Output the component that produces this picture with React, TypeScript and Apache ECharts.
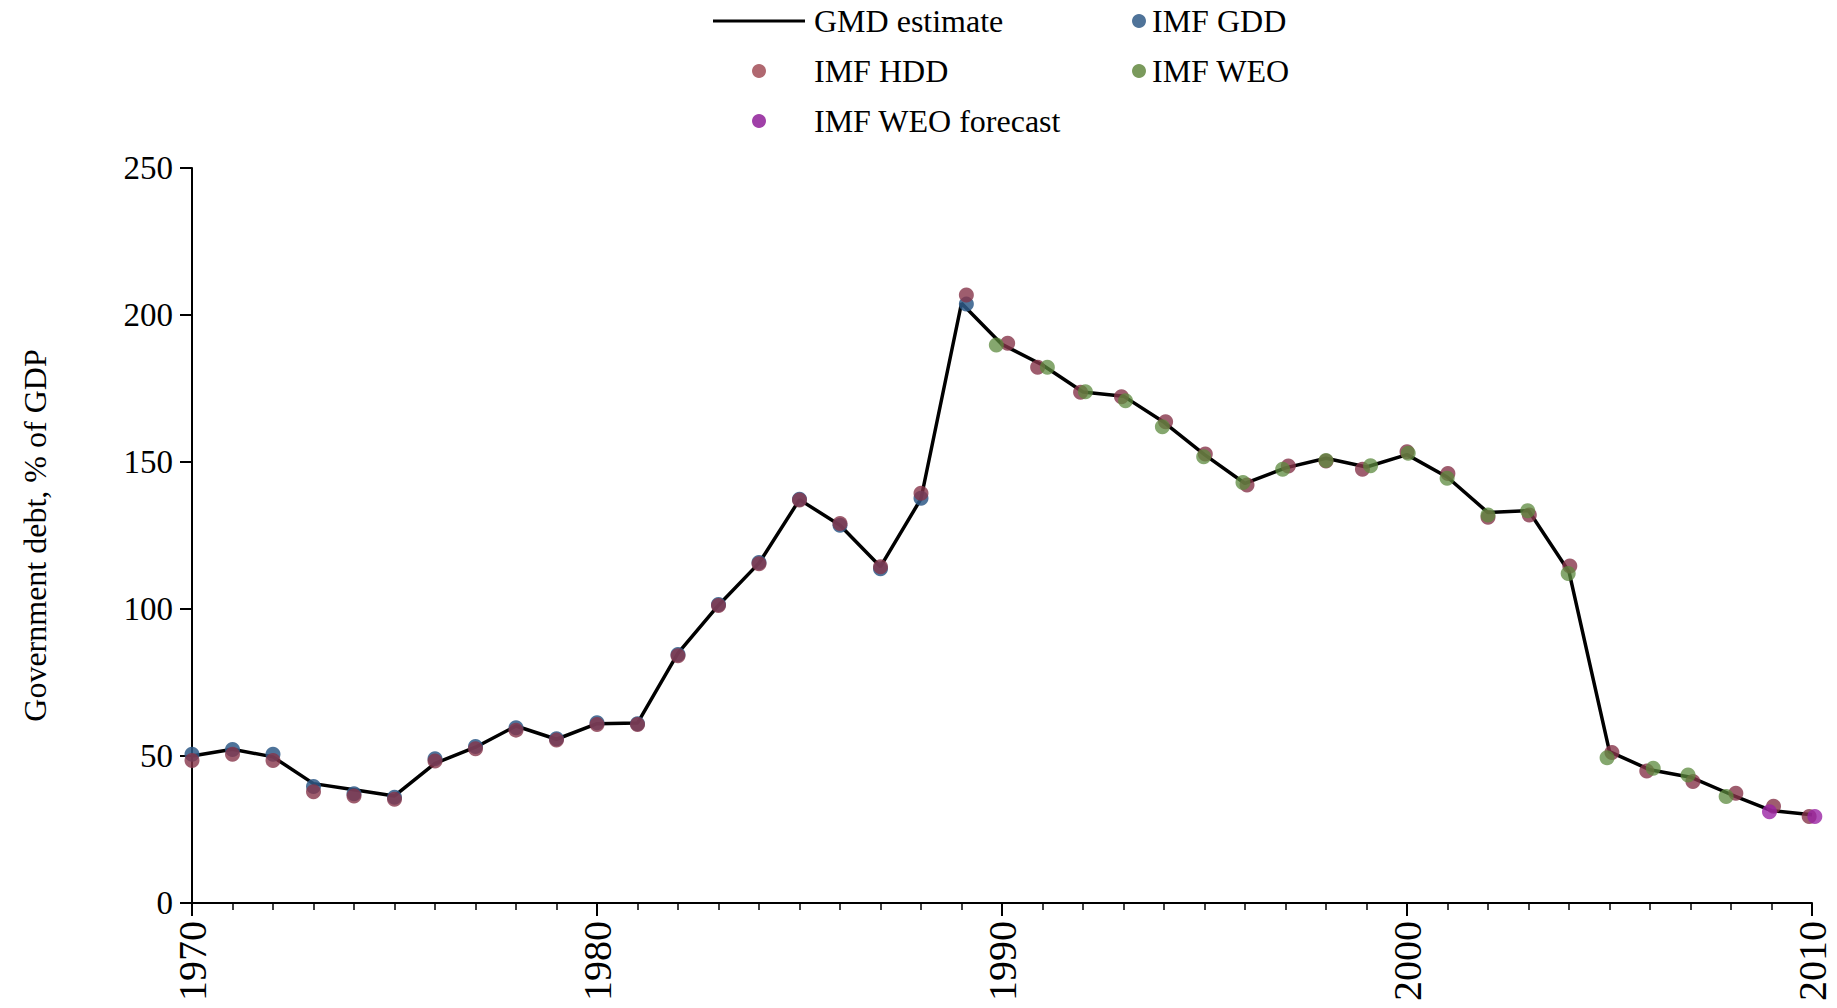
import React, { useEffect, useRef } from "react";
import * as echarts from "echarts";

// ---- Data ----
const years = [
  1970, 1971, 1972, 1973, 1974, 1975, 1976, 1977, 1978, 1979,
  1980, 1981, 1982, 1983, 1984, 1985, 1986, 1987, 1988, 1989,
  1990, 1991, 1992, 1993, 1994, 1995, 1996, 1997, 1998, 1999,
  2000, 2001, 2002, 2003, 2004, 2005, 2006, 2007, 2008, 2009, 2010,
];
const gmdEstimate = [
  50, 52.3, 49.7, 40.6, 38.5, 36.4, 47.5, 53, 60.2, 55.7,
  61, 61.2, 85, 101.3, 115.6, 137.2, 128.5, 114.4, 137.5, 204,
  190, 183, 173.8, 172.4, 163.5, 152.5, 142.7, 148, 151.3, 148.3,
  152.5, 144.8, 132.8, 133.5, 112.7, 51.5, 45.3, 42.8, 36.9, 31.4, 30,
];

const gddYears = [
  1970, 1971, 1972, 1973, 1974, 1975, 1976, 1977, 1978, 1979,
  1980, 1981, 1982, 1983, 1984, 1985, 1986, 1987, 1988, 1989.12,
];
const gddValues = [
  50.6, 52.2, 50.6, 39.6, 37.2, 36.0, 49.1, 53.2, 59.6, 55.9,
  61.3, 61.0, 84.5, 101.5, 115.8, 137.3, 128.5, 113.7, 137.7, 203.7,
];

const hddYears = [
  1970, 1971, 1972, 1973, 1974, 1975, 1976, 1977, 1978, 1979,
  1980, 1981, 1982, 1983, 1984, 1985, 1986, 1987, 1988, 1989.12,
  1990.14, 1990.88, 1991.94, 1992.95, 1994.04, 1995.02, 1996.05, 1997.07, 1998, 1998.9,
  2000, 2001.01, 2002, 2003.02, 2004.02, 2005.06, 2005.92, 2007.06, 2008.12, 2009.05, 2009.93,
];
const hddValues = [
  48.5, 50.6, 48.5, 37.8, 36.4, 35.3, 48.3, 52.5, 58.8, 55.4,
  60.7, 60.7, 84.1, 101.2, 115.4, 137.1, 129.1, 114.4, 139.4, 206.8,
  190.4, 182.2, 173.7, 172.2, 163.7, 152.7, 142.2, 148.6, 150.3, 147.5,
  153.5, 146.1, 131.2, 132.0, 114.6, 51.2, 44.9, 41.3, 37.3, 32.9, 29.4,
];

const weoYears = [
  1989.86, 1991.12, 1992.06, 1993.05, 1993.96, 1994.98, 1995.95, 1996.93, 1998, 1999.1,
  2000.03, 2000.99, 2002, 2002.98, 2003.98, 2004.94, 2006.08, 2006.94, 2007.88,
];
const weoValues = [
  189.8, 182.2, 173.9, 170.8, 162.0, 151.8, 143.0, 147.5, 150.5, 148.7,
  153.0, 144.5, 132.0, 133.4, 112.1, 49.4, 45.8, 43.5, 36.2,
];

const forecastYears = [2008.95, 2010.07];
const forecastValues = [31.0, 29.4];

const yAxisTitle = "Government debt, % of GDP";
const FONT = "'Liberation Serif', 'Times New Roman', serif";

const pairs = (xs: number[], ys: number[]) => xs.map((x, i) => [x, ys[i]]);

export default function App() {
  const ref = useRef<HTMLDivElement>(null);

  useEffect(() => {
    if (!ref.current) return;
    const chart = echarts.init(ref.current, null, { renderer: "svg" });

    const legendText = {
      fontSize: 32,
      fontFamily: FONT,
      color: "#000",
      lineHeight: 32,
    };

    const scatterBase = {
      type: "scatter",
      symbol: "circle",
      symbolSize: 15,
      clip: false,
      z: 3,
    };

    chart.setOption({
      animation: false,
      backgroundColor: "#ffffff",
      textStyle: { fontFamily: FONT },
      grid: { left: 192, right: 25, top: 168, bottom: 105, containLabel: false },
      legend: [
        {
          orient: "vertical",
          left: 708,
          top: 0,
          itemWidth: 92,
          itemHeight: 14,
          itemGap: 18,
          selectedMode: false,
          textStyle: { ...legendText, padding: [0, 0, 0, 4] },
          data: [
            {
              name: "GMD estimate",
              icon: "path://M0,0h92v3h-92z",
              itemStyle: { color: "#000", opacity: 1 },
            },
            { name: "IMF HDD", icon: "circle", itemStyle: { color: "#b06870", opacity: 1 } },
            { name: "IMF WEO forecast", icon: "circle", itemStyle: { color: "#a040a8", opacity: 1 } },
          ],
        },
        {
          orient: "vertical",
          left: 1127,
          top: 0,
          itemWidth: 14,
          itemHeight: 14,
          itemGap: 18,
          selectedMode: false,
          textStyle: { ...legendText, padding: [0, 0, 0, 1] },
          data: [
            { name: "IMF GDD", icon: "circle", itemStyle: { color: "#4f7399", opacity: 1 } },
            { name: "IMF WEO", icon: "circle", itemStyle: { color: "#7a9a5c", opacity: 1 } },
          ],
        },
      ],
      xAxis: {
        type: "value",
        min: 1970,
        max: 2010,
        interval: 10,
        axisLine: { show: true, onZero: false, lineStyle: { color: "#000", width: 2 } },
        axisTick: { show: true, length: 13, lineStyle: { color: "#000", width: 2 } },
        minorTick: { show: true, splitNumber: 10, length: 7, lineStyle: { color: "#000", width: 1.5 } },
        splitLine: { show: false },
        minorSplitLine: { show: false },
        axisLabel: {
          rotate: 90,
          margin: 18,
          fontSize: 40,
          fontFamily: FONT,
          color: "#000",
          formatter: (v: number) => String(v),
        },
      },
      yAxis: {
        type: "value",
        min: 0,
        max: 250,
        interval: 50,
        name: yAxisTitle,
        nameLocation: "middle",
        nameGap: 141,
        nameTextStyle: { fontSize: 32, fontFamily: FONT, color: "#000" },
        axisLine: { show: true, lineStyle: { color: "#000", width: 2 } },
        axisTick: { show: true, length: 12, lineStyle: { color: "#000", width: 2 } },
        splitLine: { show: false },
        axisLabel: { margin: 19, fontSize: 33, fontFamily: FONT, color: "#000" },
      },
      series: [
        {
          name: "GMD estimate",
          type: "line",
          data: pairs(years, gmdEstimate),
          symbol: "none",
          showSymbol: false,
          lineStyle: { color: "#000", width: 3.5 },
          itemStyle: { color: "#000" },
          z: 2,
        },
        {
          ...scatterBase,
          name: "IMF GDD",
          data: pairs(gddYears, gddValues),
          itemStyle: { color: "#2f5a88", opacity: 0.85 },
        },
        {
          ...scatterBase,
          name: "IMF HDD",
          data: pairs(hddYears, hddValues),
          itemStyle: { color: "#86344a", opacity: 0.8 },
        },
        {
          ...scatterBase,
          name: "IMF WEO",
          data: pairs(weoYears, weoValues),
          itemStyle: { color: "#5c8a3e", opacity: 0.75 },
        },
        {
          ...scatterBase,
          name: "IMF WEO forecast",
          data: pairs(forecastYears, forecastValues),
          itemStyle: { color: "#9a24a4", opacity: 0.8 },
        },
      ],
    });

    return () => chart.dispose();
  }, []);

  return (
    <div
      ref={ref}
      style={{ position: "absolute", left: 0, top: 0, width: 1837, height: 1008 }}
    />
  );
}
